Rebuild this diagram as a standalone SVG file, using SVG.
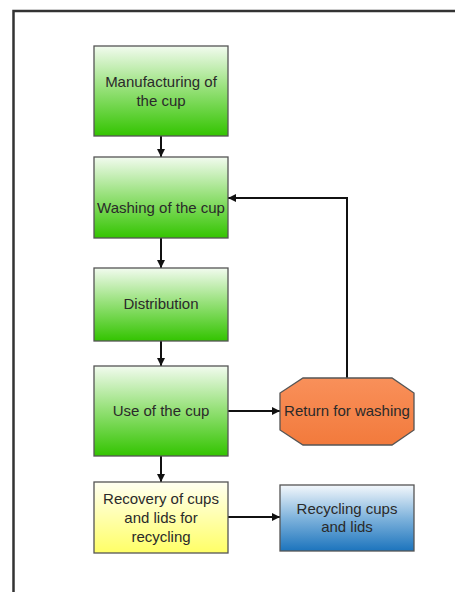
<svg xmlns="http://www.w3.org/2000/svg" width="455" height="592" viewBox="0 0 455 592">
  <style>
    .frame { fill: none; stroke: #333; stroke-width: 2.5; }
    .box { stroke: #555; stroke-width: 1.3; }
    .green { fill: url(#gGreen); }
    .yellow { fill: url(#gYellow); }
    .blue { fill: url(#gBlue); }
    .orange { fill: url(#gOrange); }
    .label { font-family: "Liberation Sans", Arial, sans-serif; font-size: 15px; fill: #2a2a2a; text-anchor: middle; }
    .conn { fill: none; stroke: #111; stroke-width: 2; marker-end: url(#arrow); }
  </style>
  <defs>
    <linearGradient id="gGreen" x1="0" y1="0" x2="0" y2="1">
      <stop offset="0" stop-color="#f2fbef"/>
      <stop offset="0.45" stop-color="#9be27f"/>
      <stop offset="1" stop-color="#33c400"/>
    </linearGradient>
    <linearGradient id="gYellow" x1="0" y1="0" x2="0" y2="1">
      <stop offset="0" stop-color="#fffff2"/>
      <stop offset="1" stop-color="#ffff66"/>
    </linearGradient>
    <linearGradient id="gBlue" x1="0" y1="0" x2="0" y2="1">
      <stop offset="0" stop-color="#f4f8fc"/>
      <stop offset="0.5" stop-color="#7fb3dc"/>
      <stop offset="1" stop-color="#1c74bd"/>
    </linearGradient>
    <linearGradient id="gOrange" x1="0" y1="0" x2="0" y2="1">
      <stop offset="0" stop-color="#f9905a"/>
      <stop offset="1" stop-color="#f27a3c"/>
    </linearGradient>
    <marker id="arrow" viewBox="0 0 10 10" refX="10" refY="5" markerWidth="4" markerHeight="4" orient="auto" markerUnits="strokeWidth">
      <path d="M0,0 L10,5 L0,10 z" fill="#111"/>
    </marker>
  </defs>

  <!-- page frame -->
  <path class="frame" d="M13.5,592 V11 H455"/>

  <g id="connectors">
    <line class="conn" x1="161" y1="136" x2="161" y2="157"/>
    <line class="conn" x1="161" y1="238" x2="161" y2="268"/>
    <line class="conn" x1="161" y1="341" x2="161" y2="366"/>
    <line class="conn" x1="161" y1="456" x2="161" y2="482"/>
    <line class="conn" x1="228" y1="411" x2="280" y2="411"/>
    <line class="conn" x1="228" y1="517" x2="280" y2="517"/>
    <polyline class="conn" points="347,378 347,198 228,198"/>
  </g>

  <g id="manufacturing">
    <rect class="box green" x="94" y="46" width="134" height="90"/>
    <text class="label" x="161" y="87">Manufacturing of</text>
    <text class="label" x="161" y="106">the cup</text>
  </g>

  <g id="washing">
    <rect class="box green" x="94" y="157" width="134" height="81"/>
    <text class="label" x="161" y="213">Washing of the cup</text>
  </g>

  <g id="distribution">
    <rect class="box green" x="94" y="268" width="134" height="73"/>
    <text class="label" x="161" y="309">Distribution</text>
  </g>

  <g id="use">
    <rect class="box green" x="94" y="366" width="134" height="90"/>
    <text class="label" x="161" y="416">Use of the cup</text>
  </g>

  <g id="return">
    <polygon class="box orange" points="303,378 392,378 414,393 414,430 392,445 303,445 280,430 280,393"/>
    <text class="label" x="347" y="416">Return for washing</text>
  </g>

  <g id="recovery">
    <rect class="box yellow" x="94" y="482" width="134" height="71"/>
    <text class="label" x="161" y="504">Recovery of cups</text>
    <text class="label" x="161" y="523">and lids for</text>
    <text class="label" x="161" y="542">recycling</text>
  </g>

  <g id="recycling">
    <rect class="box blue" x="280" y="485" width="134" height="66"/>
    <text class="label" x="347" y="514">Recycling cups</text>
    <text class="label" x="347" y="532">and lids</text>
  </g>
</svg>
